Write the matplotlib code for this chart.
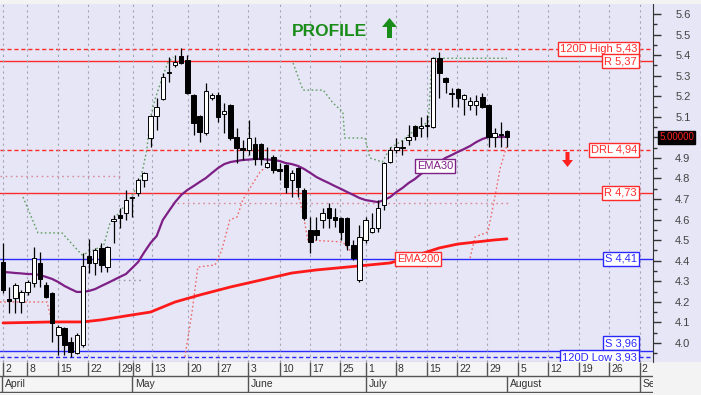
import matplotlib
matplotlib.use('Agg')
import matplotlib.pyplot as plt
import matplotlib.transforms as mtrans
from matplotlib.patches import Rectangle, Polygon
import numpy as np

plt.rcParams['font.family'] = ['Liberation Sans', 'DejaVu Sans']

# ---------------- data ----------------
opens = [4.394, 4.214, 4.219, 4.199, 4.248, 4.291, 4.389, 4.282, 4.243, 4.039,
         4.073, 4.005, 3.951, 3.990, 4.423, 4.389, 4.462, 4.369, 4.593, 4.622,
         4.632, 4.705, 4.729, 4.793, 4.997, 5.104, 5.187, 5.313, 5.352, 5.396,
         5.376, 5.206, 5.104, 5.021, 5.191, 5.206, 5.114, 5.157, 5.002, 4.948,
         4.939, 4.968, 4.968, 4.856, 4.904, 4.846, 4.865, 4.793, 4.851, 4.744,
         4.549, 4.549, 4.598, 4.656, 4.613, 4.608, 4.608, 4.476, 4.306, 4.501,
         4.540, 4.559, 4.671, 4.880, 4.939, 4.948, 4.987, 5.055, 5.045, 5.055,
         5.050, 5.386, 5.289, 5.216, 5.235, 5.187, 5.157, 5.157, 5.196, 5.157,
         5.002, 5.016, 5.031]
highs = [4.486, 4.272, 4.292, 4.258, 4.306, 4.467, 4.442, 4.296, 4.248, 4.087,
         4.078, 4.029, 4.048, 4.437, 4.506, 4.462, 4.486, 4.472, 4.622, 4.656,
         4.744, 4.715, 4.802, 4.831, 5.109, 5.191, 5.313, 5.391, 5.400, 5.435,
         5.400, 5.210, 5.109, 5.264, 5.216, 5.221, 5.167, 5.160, 5.045, 4.987,
         5.084, 5.002, 4.972, 4.953, 4.914, 4.875, 4.870, 4.841, 4.856, 4.754,
         4.613, 4.613, 4.656, 4.681, 4.656, 4.613, 4.613, 4.501, 4.574, 4.613,
         4.632, 4.695, 4.880, 4.953, 4.997, 4.987, 5.060, 5.060, 5.099, 5.109,
         5.391, 5.415, 5.294, 5.240, 5.240, 5.210, 5.196, 5.206, 5.216, 5.162,
         5.045, 5.075, 5.036]
lows = [4.243, 4.146, 4.146, 4.146, 4.233, 4.272, 4.272, 4.219, 4.005, 3.941,
        3.941, 3.932, 3.946, 3.980, 4.340, 4.330, 4.345, 4.345, 4.486, 4.559,
        4.598, 4.613, 4.715, 4.758, 4.953, 5.036, 5.182, 5.269, 5.342, 5.357,
        5.210, 5.011, 4.977, 5.011, 5.182, 5.075, 5.021, 4.987, 4.875, 4.890,
        4.914, 4.865, 4.865, 4.851, 4.827, 4.793, 4.729, 4.710, 4.710, 4.598,
        4.438, 4.501, 4.559, 4.559, 4.564, 4.501, 4.452, 4.403, 4.296, 4.486,
        4.535, 4.540, 4.647, 4.875, 4.924, 4.914, 4.963, 4.987, 5.002, 5.002,
        5.045, 5.191, 5.216, 5.148, 5.148, 5.109, 5.133, 5.109, 5.143, 4.953,
        4.953, 4.953, 4.953]
closes = [4.258, 4.204, 4.282, 4.248, 4.296, 4.413, 4.311, 4.223, 4.097, 4.078,
          3.990, 3.956, 4.039, 4.374, 4.389, 4.452, 4.379, 4.467, 4.603, 4.607,
          4.695, 4.710, 4.793, 4.827, 5.104, 5.148, 5.293, 5.318, 5.366, 5.362,
          5.216, 5.070, 5.026, 5.225, 5.206, 5.099, 5.128, 4.997, 4.948, 4.939,
          4.997, 4.895, 4.895, 4.875, 4.841, 4.836, 4.758, 4.827, 4.758, 4.608,
          4.491, 4.525, 4.632, 4.608, 4.598, 4.540, 4.476, 4.413, 4.515, 4.598,
          4.559, 4.656, 4.875, 4.939, 4.953, 4.953, 5.002, 5.006, 5.055, 5.060,
          5.386, 5.313, 5.269, 5.211, 5.191, 5.206, 5.177, 5.177, 5.148, 5.002,
          5.021, 5.011, 5.000]

ema30 = [4.345, 4.343, 4.340, 4.338, 4.335, 4.335, 4.330, 4.321, 4.311, 4.296,
         4.277, 4.262, 4.248, 4.248, 4.253, 4.262, 4.277, 4.291, 4.306, 4.321,
         4.335, 4.364, 4.394, 4.442, 4.486, 4.520, 4.598, 4.642, 4.685, 4.720,
         4.744, 4.763, 4.783, 4.802, 4.827, 4.851, 4.870, 4.880, 4.885, 4.890,
         4.892, 4.895, 4.895, 4.892, 4.890, 4.885, 4.875, 4.870, 4.861, 4.846,
         4.827, 4.807, 4.792, 4.778, 4.763, 4.749, 4.734, 4.720, 4.705, 4.695,
         4.690, 4.685, 4.695, 4.710, 4.734, 4.754, 4.778, 4.797, 4.822, 4.841,
         4.861, 4.880, 4.900, 4.914, 4.929, 4.943, 4.958, 4.977, 4.992, 5.002,
         5.002, 5.002, 5.002]

ema200_idx = [0, 5, 8, 13, 16, 21, 24, 28, 32, 37, 42, 47, 51, 56, 63, 68, 71, 74, 77, 80, 82]
ema200_val = [4.097, 4.100, 4.102, 4.102, 4.112, 4.136, 4.150, 4.199, 4.233, 4.272,
              4.306, 4.340, 4.355, 4.369, 4.389, 4.433, 4.462, 4.481, 4.491, 4.501, 4.506]

# trailing-stop dotted lines (index, price)
green_stop_a_x = [3.25, 5.69, 9.6, 12.85, 14.8, 16.4, 17.4, 19.0, 20.7, 22.3, 23.4, 23.9, 24.7, 25.9, 26.8, 27.7]
green_stop_a_y = [4.710, 4.535, 4.535, 4.428, 4.452, 4.476, 4.583, 4.637, 4.705, 4.783, 4.939, 5.084, 5.182, 5.289, 5.362, 5.391]
green_stop_b_x = [47.2, 48.8, 52.1, 53.7, 55.3, 55.6, 58.9, 59.7, 61.7, 63.0, 65.1, 67.0, 69.2, 69.8, 82.0]
green_stop_b_y = [5.362, 5.230, 5.230, 5.167, 5.123, 4.997, 4.997, 4.900, 4.880, 4.948, 4.987, 5.036, 5.075, 5.385, 5.385]

pink_stop_a_x = [-0.49, 7.16, 7.97]
pink_stop_a_y = [4.199, 4.199, 4.102]
pink_stop_b_x = [29.6, 30.8, 31.7, 34.5, 35.6, 36.9, 38.1, 39.0, 40.7, 41.8, 43.1]
pink_stop_b_y = [3.932, 4.160, 4.369, 4.379, 4.452, 4.598, 4.613, 4.695, 4.778, 4.831, 4.865]
pink_stop_c_x = [47.8, 48.8, 49.6, 55.3, 56.8]
pink_stop_c_y = [4.744, 4.632, 4.501, 4.491, 4.438]
pink_stop_d_x = [76.0, 76.8, 78.9, 80.1, 80.9, 82.0]
pink_stop_d_y = [4.413, 4.515, 4.540, 4.720, 4.851, 4.963]
pink_level_x = [[-0.49, 19.4], [27.5, 82.5]]
pink_level_y = [4.812, 4.681]
gray_level_x = [17.9, 22.8]
gray_level_y = 4.306

level_values = [5.43, 5.37, 4.94, 4.73, 4.41, 3.96, 3.93]
level_labels = ['120D High 5,43', 'R 5,37', 'DRL 4,94', 'R 4,73', 'S 4,41', 'S 3,96', '120D Low 3,93']
level_colors = ['red', 'red', 'red', 'red', 'blue', 'blue', 'blue']
level_dashed = [True, False, True, False, False, False, True]

day_labels = ['2', '8', '15', '22', '29', '8', '13', '20', '27', '3', '10', '17', '25',
              '1', '8', '15', '22', '29', '5', '12', '19', '26', '2']
day_pos = [0, 3.9, 9.0, 13.8, 18.9, 21.1, 24.3, 30.1, 35.0, 39.9, 45.1, 50.0, 54.8,
           59.1, 63.9, 69.0, 73.9, 78.8, 83.8, 88.7, 93.7, 98.6, 103.6]
month_labels = ['April', 'May', 'June', 'July', 'August', 'September']
month_pos = [-0.2, 21.0, 39.9, 59.1, 82.0, 103.6]

last_price = 5.00

# ---------------- figure ----------------
W, H = 701, 395
LAV = '#E6E6F6'
RED = '#FF2A2A'
BLUE = '#2A2AFF'
PURPLE = '#7E1F86'
COL = {'red': RED, 'blue': BLUE}

fig = plt.figure(figsize=(W / 100, H / 100), dpi=100)
fig.patch.set_facecolor('#F3F3F3')


def fx(px):
    return px / W


def fy(py):
    return 1 - py / H


fig.patches.append(Rectangle((0, fy(362)), 1, fy(4) - fy(362), transform=fig.transFigure,
                             facecolor=LAV, edgecolor='none', zorder=-10))

ax = fig.add_axes([0, fy(362), fx(653), fy(4) - fy(362)])
ax.set_facecolor(LAV)
ax.set_xlim(-0.49, 105.76)
ax.set_ylim(3.907, 5.649)

# grid
ax.set_xticks(day_pos)
ax.tick_params(axis='x', length=0, labelbottom=False)
ax.grid(axis='x', color='#A4A4B4', linestyle=(0, (2, 3)), linewidth=0.8, zorder=0)

# levels
for v, c, d in zip(level_values, level_colors, level_dashed):
    ax.axhline(v, color=COL[c], lw=1.0, ls=(0, (3, 2)) if d else '-', zorder=1)

# dotted stops
ax.plot(green_stop_a_x, green_stop_a_y, color='#5F9F5F', lw=1.0, ls=(0, (1.2, 1.8)), zorder=2)
ax.plot(green_stop_b_x, green_stop_b_y, color='#5F9F5F', lw=1.0, ls=(0, (1.2, 1.8)), zorder=2)
for xs, ys in [(pink_stop_a_x, pink_stop_a_y), (pink_stop_b_x, pink_stop_b_y),
               (pink_stop_c_x, pink_stop_c_y), (pink_stop_d_x, pink_stop_d_y)]:
    ax.plot(xs, ys, color='#EE6A6A', lw=1.0, ls=(0, (1.2, 1.8)), zorder=2)
for xs, yv in zip(pink_level_x, pink_level_y):
    ax.plot(xs, [yv, yv], color='#DA8A9A', lw=1.0, ls=(0, (1.2, 2.5)), zorder=2)
ax.plot(gray_level_x, [gray_level_y] * 2, color='#9A9AAA', lw=1.0, ls=(0, (1.2, 2.5)), zorder=2)

# EMAs
ax.plot(ema200_idx, ema200_val, color='#FF1A1A', lw=2.0, zorder=3, solid_capstyle='round')
ax.plot(range(len(ema30)), ema30, color=PURPLE, lw=1.6, zorder=3, solid_capstyle='round')

# candles
bw = 0.72
for i, (o, h, l, c) in enumerate(zip(opens, highs, lows, closes)):
    ax.vlines(i, l, h, color='black', lw=0.9, zorder=4)
    lo, hi = min(o, c), max(o, c)
    ax.add_patch(Rectangle((i - bw / 2, lo), bw, max(hi - lo, 0.004),
                           facecolor='white' if c >= o else 'black',
                           edgecolor='black', lw=0.7, zorder=5))

# level labels
blend = mtrans.blended_transform_factory(ax.transAxes, ax.transData)
label_dy = [0, 0, 0, 0, 0, 8, 0]
for v, t, c, dy in zip(level_values, level_labels, level_colors, label_dy):
    tr = blend + mtrans.ScaledTranslation(0, dy / 100, fig.dpi_scale_trans)
    ax.text(637 / 653, v, t, transform=tr, ha='right', va='center', fontsize=8,
            color=COL[c], zorder=10, clip_on=False,
            bbox=dict(boxstyle='square,pad=0.18', fc='white', ec=COL[c], lw=1))

ax.text(70.3, 4.861, 'EMA30', ha='center', va='center', fontsize=8, color=PURPLE, zorder=10,
        bbox=dict(boxstyle='square,pad=0.18', fc='white', ec=PURPLE, lw=1))
ax.text(67.5, 4.408, 'EMA200', ha='center', va='center', fontsize=8, color=RED, zorder=10,
        bbox=dict(boxstyle='square,pad=0.18', fc='white', ec=RED, lw=1))

# current price box
ax.text(676.5 / 653, last_price, f'{last_price:.5f}', transform=blend, ha='center', va='center',
        fontsize=7, color='#FF2020', zorder=20, clip_on=False,
        bbox=dict(boxstyle='square,pad=0.15', fc='black', ec='black'))

# y axis on right (the price box replaces the 5.0 label)
yt = np.round(np.arange(4.0, 5.61, 0.1), 2)
ax.yaxis.tick_right()
ax.set_yticks(yt)
ax.set_yticks(np.round(np.arange(3.95, 5.65, 0.05), 2), minor=True)
ax.set_yticklabels(['' if abs(v - last_price) < 1e-6 else f'{v:.1f}' for v in yt])
ax.tick_params(axis='y', which='major', direction='out', length=6, width=1, color='#333333',
               labelsize=8, labelcolor='#444444', pad=10)
ax.tick_params(axis='y', which='minor', direction='out', length=3, width=1, color='#333333')
for s in ['left', 'top']:
    ax.spines[s].set_visible(False)
ax.spines['right'].set_color('#333333')
ax.spines['bottom'].set_color('#555555')

# date axis
dax = fig.add_axes([0, fy(393), fx(653), fy(362) - fy(393)])
dax.set_xlim(ax.get_xlim())
dax.set_ylim(0, 1)
dax.set_facecolor('#F5F5F5')
dax.axis('off')
dax.add_patch(Rectangle((0, 0), 1, 1, transform=dax.transAxes, fc='#F5F5F5', ec='none', zorder=0))
mid = 17 / 31
dax.axhline(mid, color='#555555', lw=1)
dax.axhline(0.03, color='#555555', lw=1)
dax.vlines(day_pos, mid, 1, color='#555555', lw=1)
dax.vlines(month_pos, 0.03, mid, color='#555555', lw=1)
for p, t in zip(day_pos, day_labels):
    dax.text(p + 0.35, 0.77, t, ha='left', va='center', fontsize=7.5, color='#333333', clip_on=True)
for p, t in zip(month_pos, month_labels):
    dax.text(p + 0.45, 0.28, t, ha='left', va='center', fontsize=7.5, color='#333333', clip_on=True)

# PROFILE header and arrows
fig.text(fx(329), fy(31.5), 'PROFILE', ha='center', va='center', fontsize=12.5,
         fontweight='bold', color='#1A8C1A')


def arrow(cx, y_tail, y_tip, hw, sw, head_len, color):
    sgn = 1 if y_tip < y_tail else -1
    yb = y_tip + sgn * head_len
    pts = [(cx, y_tip), (cx + hw, yb), (cx + sw, yb), (cx + sw, y_tail),
           (cx - sw, y_tail), (cx - sw, yb), (cx - hw, yb)]
    fig.patches.append(Polygon([(fx(a), fy(b)) for a, b in pts], closed=True,
                               transform=fig.transFigure, fc=color, ec='none', zorder=30))


arrow(389.5, 38, 18, 7.5, 2.5, 9, '#1A8C1A')
arrow(567.5, 152, 167, 5.5, 2.0, 7, '#FF2020')

fig.savefig('out.png', dpi=100, facecolor=fig.get_facecolor())
